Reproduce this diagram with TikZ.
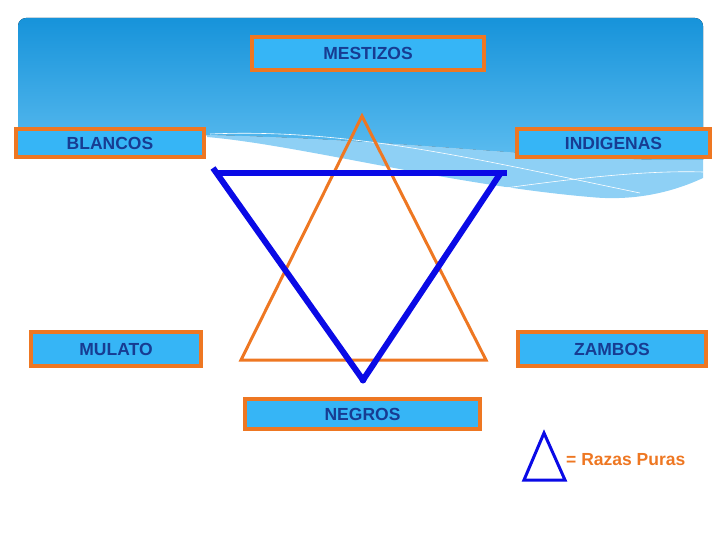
\documentclass[tikz,border=0pt]{standalone}
\usepackage{fontspec}
\setmainfont{Liberation Sans}
\definecolor{naranja}{HTML}{EE7722}
\definecolor{celeste}{HTML}{36B5F6}
\definecolor{tinta}{HTML}{173C92}
\definecolor{azulfuerte}{HTML}{0A0AE6}
\definecolor{cieloA}{HTML}{1793DA}
\definecolor{cieloB}{HTML}{5DBDF0}
\definecolor{franja}{HTML}{8ED0F5}
\tikzset{
  caja/.style={draw=naranja, line width=4pt, fill=celeste, text=tinta,
    inner sep=0pt, font=\fontsize{17.5}{20}\selectfont\bfseries},
  rojo/.style={draw=naranja, line width=3pt, line join=miter},
  azul/.style={draw=azulfuerte, line width=6pt}
}
\begin{document}
\begin{tikzpicture}[x=1pt, y=-1pt]
	\useasboundingbox (0,0) rectangle (720,540);
	% Fondo
	\fill[top color=cieloA, bottom color=cieloB]
		(18,150) [rounded corners=8pt] -- (18,18) -- (703,18)
		[rounded corners=0pt] -- (703,160)
		.. controls (560,162) and (420,140) .. (207,135) -- (18,150) -- cycle;
	\fill[franja] (207,135) .. controls (420,140) and (560,162) .. (703,160)
		-- (703,178) .. controls (660,198) and (620,200) .. (590,197)
		.. controls (450,185) and (300,145) .. (207,137) -- cycle;
	\draw[white, line width=0.6pt] (210,134) .. controls (350,128) and (480,160)
		.. (640,193);
	\draw[white, line width=0.6pt] (470,193) .. controls (560,180) and (640,170)
		.. (703,172);

	% Cajas
	\node[caja, minimum width=232pt, minimum height=33pt] (mestizos) at (368,53.5) {MESTIZOS};
	\node[caja, minimum width=188pt, minimum height=28pt] (blancos) at (110,143) {BLANCOS};
	\node[caja, minimum width=193pt, minimum height=28pt] (indigenas) at (613.5,143) {INDIGENAS};
	\node[caja, minimum width=170pt, minimum height=34pt] (mulato) at (116,349) {MULATO};
	\node[caja, minimum width=188pt, minimum height=34pt] (zambos) at (612,349) {ZAMBOS};
	\node[caja, minimum width=235pt, minimum height=30pt] (negros) at (362.5,414) {NEGROS};

	% Triangulo naranja
	\coordinate (nA) at (362,116);
	\coordinate (nB) at (241,360);
	\coordinate (nC) at (486,360);
	\draw[rojo] (nA) -- (nB) -- (nC) -- cycle;

	% Triangulo azul
	\coordinate (aI) at (213,168);
	\coordinate (aJ) at (218,173);
	\coordinate (aD) at (507,173);
	\coordinate (aR) at (500,174);
	\coordinate (aP) at (363,380);
	\draw[azul] (aJ) -- (aD);
	\draw[azul] (aI) -- (aP);
	\draw[azul] (aR) -- (aP);
	\fill[azulfuerte] (aP) circle (3.5pt);

	% Leyenda
	\coordinate (lA) at (544,433);
	\coordinate (lB) at (524,480);
	\coordinate (lC) at (565,480);
	\draw[draw=azulfuerte, line width=3pt, line join=miter] (lA) -- (lB) -- (lC) -- cycle;
	\node[anchor=west, inner sep=0pt, text=naranja,
		font=\fontsize{17.5}{20}\selectfont\bfseries] (razas) at (566,460) {= Razas Puras};
\end{tikzpicture}
\end{document}
